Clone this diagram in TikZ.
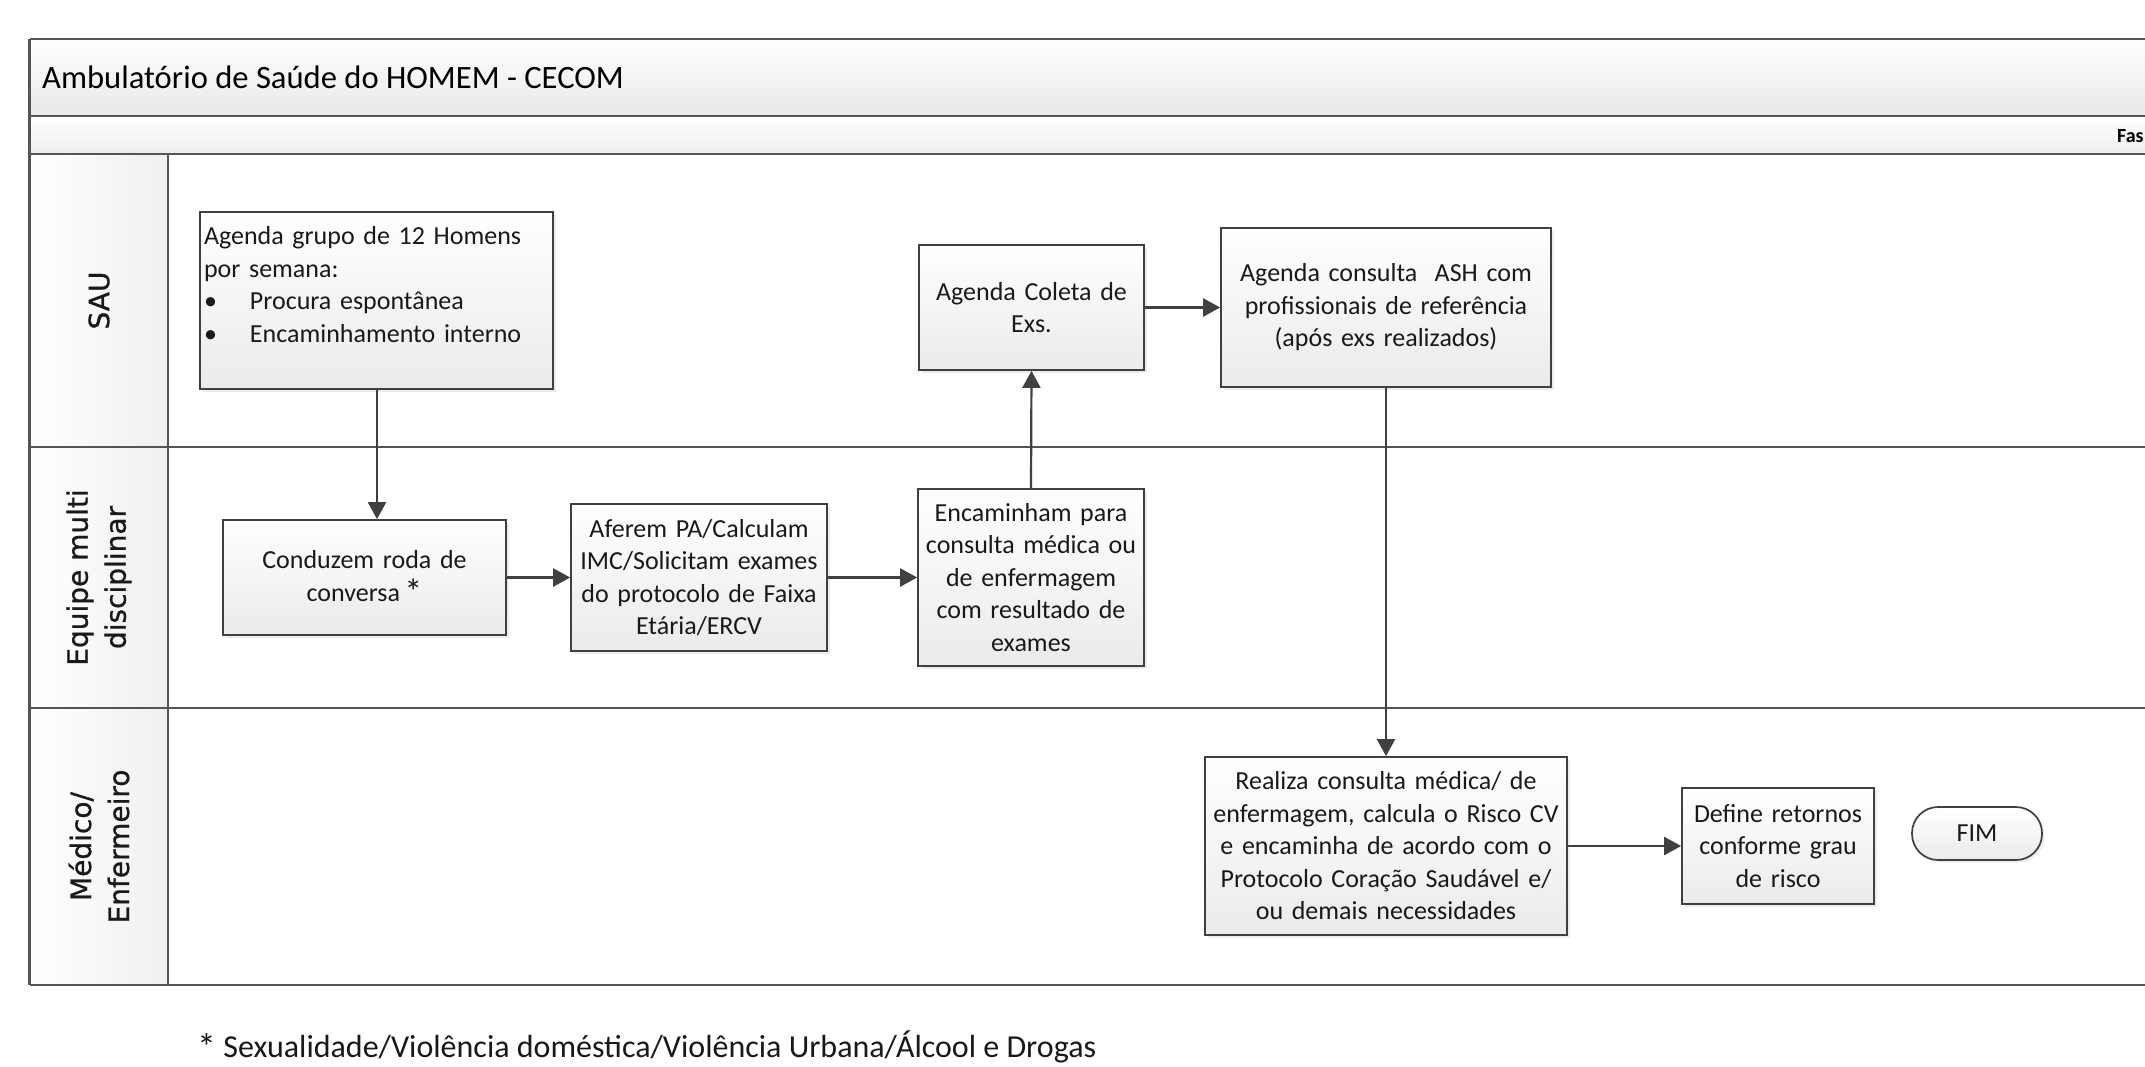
\documentclass[tikz,border=0pt]{standalone}
\usepackage{fontspec}
\setmainfont{Carlito}
\newfontfamily\lanefont[FakeBold=0.8]{DejaVu Sans}
\usetikzlibrary{arrows.meta,shadows}
\definecolor{linegray}{HTML}{404040}
\definecolor{frameline}{HTML}{555555}
\begin{document}
\begin{tikzpicture}[x=1pt,y=-1pt,
  proc/.style={draw=linegray, line width=1.7pt, top color=white, bottom color=black!8,
    align=center, inner sep=3pt, text=black!90,
    font=\fontsize{26}{32.5}\selectfont,
    drop shadow={shadow xshift=2.5pt,shadow yshift=-2.5pt,opacity=0.15}},
  flow/.style={draw=linegray, line width=2.2pt, -{Triangle[length=17pt,width=18pt]}},
  laneline/.style={draw=frameline, line width=2.4pt},
  lanelab/.style={rotate=90, align=center, text=black!90,
    font=\lanefont\fontsize{28}{38}\selectfont}]
\useasboundingbox (0,0) rectangle (2145,1066);
\clip (0,0) rectangle (2145,1066);
\fill[white] (0,0) rectangle (2145,1066);
% bands
\shade[top color=white, bottom color=black!9] (29.5,39) rectangle (2170,116);
\shade[top color=white, bottom color=black!7] (29.5,116) rectangle (2170,154);
\shade[left color=white, right color=black!6] (29.5,154) rectangle (168,985);
% frame lines
\draw[laneline] (29.5,39) -- (2170,39);
\draw[laneline] (29.5,116) -- (2170,116);
\draw[laneline] (29.5,154) -- (2170,154);
\draw[laneline] (29.5,447) -- (2170,447);
\draw[laneline] (29.5,708) -- (2170,708);
\draw[laneline] (29.5,985) -- (2170,985);
\draw[laneline] (29.5,39) -- (29.5,985);
\draw[laneline] (168,154) -- (168,985);
% title and phase
\node[anchor=base west, inner sep=0pt, font=\fontsize{32.6}{38}\selectfont] (title) at (42,88) {Ambulatório de Saúde do HOMEM - CECOM};
\node[anchor=base west, inner sep=0pt, font=\bfseries\fontsize{20}{24}\selectfont] (fase) at (2117,142) {Fas};
% lane labels
\node[lanelab] (lsau) at (99,300.5) {SAU};
\node[lanelab] (lequipe) at (99,577.5) {Equipe multi\\disciplinar};
\node[lanelab] (lmed) at (99,846.5) {Médico/\\Enfermeiro};
% process boxes
\node[proc, align=left, inner xsep=4pt, minimum width=353pt, minimum height=177pt, text width=345pt] (agenda) at (376.5,300.5)
  {Agenda grupo de 12 Homens\\por semana:\\\makebox[46pt][l]{•}Procura espontânea\\\makebox[46pt][l]{•}Encaminhamento interno\\\mbox{}};
\node[proc, minimum width=225pt, minimum height=125pt, text width=215pt] (coleta) at (1031.5,307.5)
  {Agenda Coleta de\\Exs.};
\node[proc, minimum width=330pt, minimum height=159pt, text width=320pt] (ash) at (1386,307.5)
  {Agenda consulta \ ASH com\\profissionais de referência\\(após exs realizados)};
\node[proc, minimum width=283pt, minimum height=115pt, text width=273pt] (conduzem) at (364.5,577.5)
  {Conduzem roda de\\conversa\,{\fontsize{36}{30}\selectfont\raisebox{-3pt}{*}}};
\node[proc, minimum width=254pt, minimum height=147pt, text width=250pt] (aferem) at (699,577.5)
  {Aferem PA/Calculam\\IMC/Solicitam exames\\do protocolo de Faixa\\Etária/ERCV};
\node[proc, minimum width=226pt, minimum height=177pt, text width=220pt] (encam) at (1031,577.5)
  {Encaminham para\\consulta médica ou\\de enfermagem\\com resultado de\\exames};
\node[proc, minimum width=362pt, minimum height=178pt, text width=356pt] (realiza) at (1386,846)
  {Realiza consulta médica/ de\\enfermagem, calcula o Risco CV\\e encaminha de acordo com o\\Protocolo Coração Saudável e/\\ou demais necessidades};
\node[proc, minimum width=192pt, minimum height=116pt, text width=186pt] (define) at (1778,846)
  {Define retornos\\conforme grau\\de risco};
\node[proc, rounded corners=26pt, minimum width=130pt, minimum height=53pt] (fim) at (1977,833.5) {FIM};
% connectors
\draw[flow] (agenda.south -| 377,0) -- (conduzem.north -| 377,0);
\draw[flow] (conduzem.east) -- (aferem.west);
\draw[flow] (aferem.east) -- (encam.west);
\draw[flow] (encam.north) -- (coleta.south);
\draw[flow] (coleta.east) -- (ash.west);
\draw[flow] (ash.south) -- (realiza.north);
\draw[flow] (realiza.east) -- (define.west);
% footnote
\node[anchor=base west, inner sep=0pt, font=\fontsize{32}{36}\selectfont, text=black!90] (nota) at (197,1057)
  {{\fontsize{38}{30}\selectfont\raisebox{-3pt}{*}} Sexualidade/Violência doméstica/Violência Urbana/Álcool e Drogas};
\end{tikzpicture}
\end{document}
